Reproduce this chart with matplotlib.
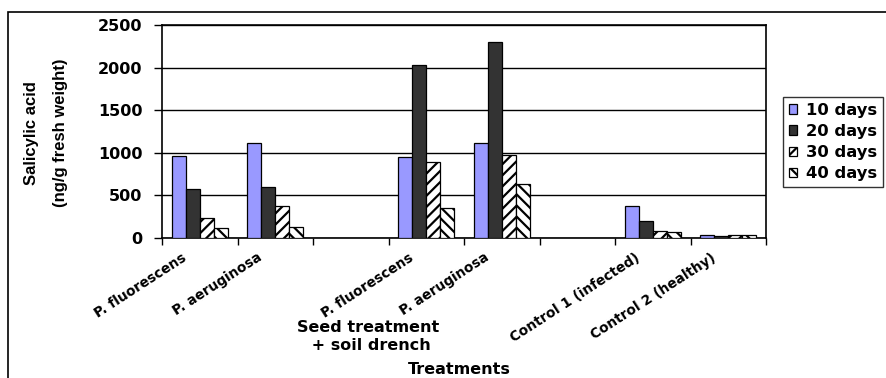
import numpy as np
import matplotlib
matplotlib.use("Agg")
import matplotlib.pyplot as plt
from matplotlib import font_manager
from matplotlib.patches import Rectangle, Patch
import matplotlib.transforms as mtransforms

# data (empty categories are gaps)
categorias = ["P. fluorescens", "P. aeruginosa", "", "P. fluorescens", "P. aeruginosa", "",
              "Control 1 (infected)", "Control 2 (healthy)"]
dias10 = [965, 1110, np.nan, 950, 1112, np.nan, 372, 30]
dias20 = [575, 598, np.nan, 2028, 2305, np.nan, 203, 28]
dias30 = [230, 373, np.nan, 888, 975, np.nan, 88, 30]
dias40 = [118, 132, np.nan, 348, 630, np.nan, 66, 32]
series = ["10 days", "20 days", "30 days", "40 days"]
yticks = [0, 500, 1000, 1500, 2000, 2500]

plt.rcParams["hatch.linewidth"] = 1.6
plt.rcParams["font.family"] = ["DejaVu Sans"]

# condensed font for the y label if there is one
nombres = {f.name for f in font_manager.fontManager.ttflist}
if "Liberation Sans Narrow" in nombres:
    fuenteY, tamY = "Liberation Sans Narrow", 14.5
else:
    fuenteY, tamY = "Liberation Sans", 12

fig = plt.figure(figsize=(8.86, 3.78), dpi=100)
ax = fig.add_axes([162/886, 1-238/378, (766-162)/886, (238-25)/378])

x = np.arange(len(categorias))
ancho = 0.185
estilos = [
    dict(color="#9999ff", hatch=None),
    dict(color="#333333", hatch=None),
    dict(color="white", hatch="///"),
    dict(color="white", hatch="\\\\\\"),
]
valores = [dias10, dias20, dias30, dias40]
for i, (vals, est) in enumerate(zip(valores, estilos)):
    ax.bar(x + (i - 1.5) * ancho, vals, ancho, color=est["color"], hatch=est["hatch"],
           edgecolor="black", linewidth=0.9, zorder=3)

ax.set_ylim(0, 2500)
ax.set_yticks(yticks)
ax.set_yticklabels([str(v) for v in yticks], fontsize=11.5, fontweight="bold")
ax.grid(axis="y", color="black", linewidth=1, zorder=0)
ax.set_xlim(-0.5, len(categorias) - 0.5)

# tick marks at category boundaries, labels at centers
ax.set_xticks(np.arange(-0.5, len(categorias)), minor=True)
ax.set_xticks(x)
ax.set_xticklabels(categorias, rotation=33, ha="right", va="top", rotation_mode="anchor",
                   fontsize=9.8, fontweight="bold")
ax.tick_params(axis="x", which="major", length=0, pad=9)
ax.tick_params(axis="x", which="minor", length=5, width=1)
ax.tick_params(axis="y", length=6, width=1, pad=8)
offset = mtransforms.ScaledTranslation(-18/100, 0, fig.dpi_scale_trans)
for lbl in ax.get_xticklabels():
    lbl.set_transform(lbl.get_transform() + offset)
for s in ax.spines.values():
    s.set_color("black")
    s.set_linewidth(1.2)

fig.text(46/886, 1-133/378, "Salicylic acid\n(ng/g fresh weight)", rotation=90,
         ha="center", va="center", fontsize=tamY, fontweight="bold",
         family=fuenteY, linespacing=2.2)
fig.text(368/886, 1-337/378, "Seed treatment\n + soil drench", ha="center", va="center",
         fontsize=11.5, fontweight="bold", linespacing=1.25)
fig.text(459/886, 1-374/378, "Treatments", ha="center", va="baseline",
         fontsize=11.5, fontweight="bold")

manijas = [Patch(facecolor=e["color"], hatch=e["hatch"], edgecolor="black", linewidth=0.9)
           for e in estilos]
leg = fig.legend(manijas, series, loc="upper left", bbox_to_anchor=(783/886, 1-97/378),
                 frameon=True, fancybox=False, edgecolor="black", handlelength=0.5,
                 handleheight=0.5, handletextpad=0.55, labelspacing=0.38, borderpad=0.35,
                 borderaxespad=0, prop=dict(size=11.8, weight="bold"))
leg.get_frame().set_linewidth(1)

fig.add_artist(Rectangle((8/886, -0.1), 1.0, 1-12/378+0.1, transform=fig.transFigure,
                         fill=False, edgecolor="black", linewidth=1.2))

fig.savefig("out.png", dpi=100)
